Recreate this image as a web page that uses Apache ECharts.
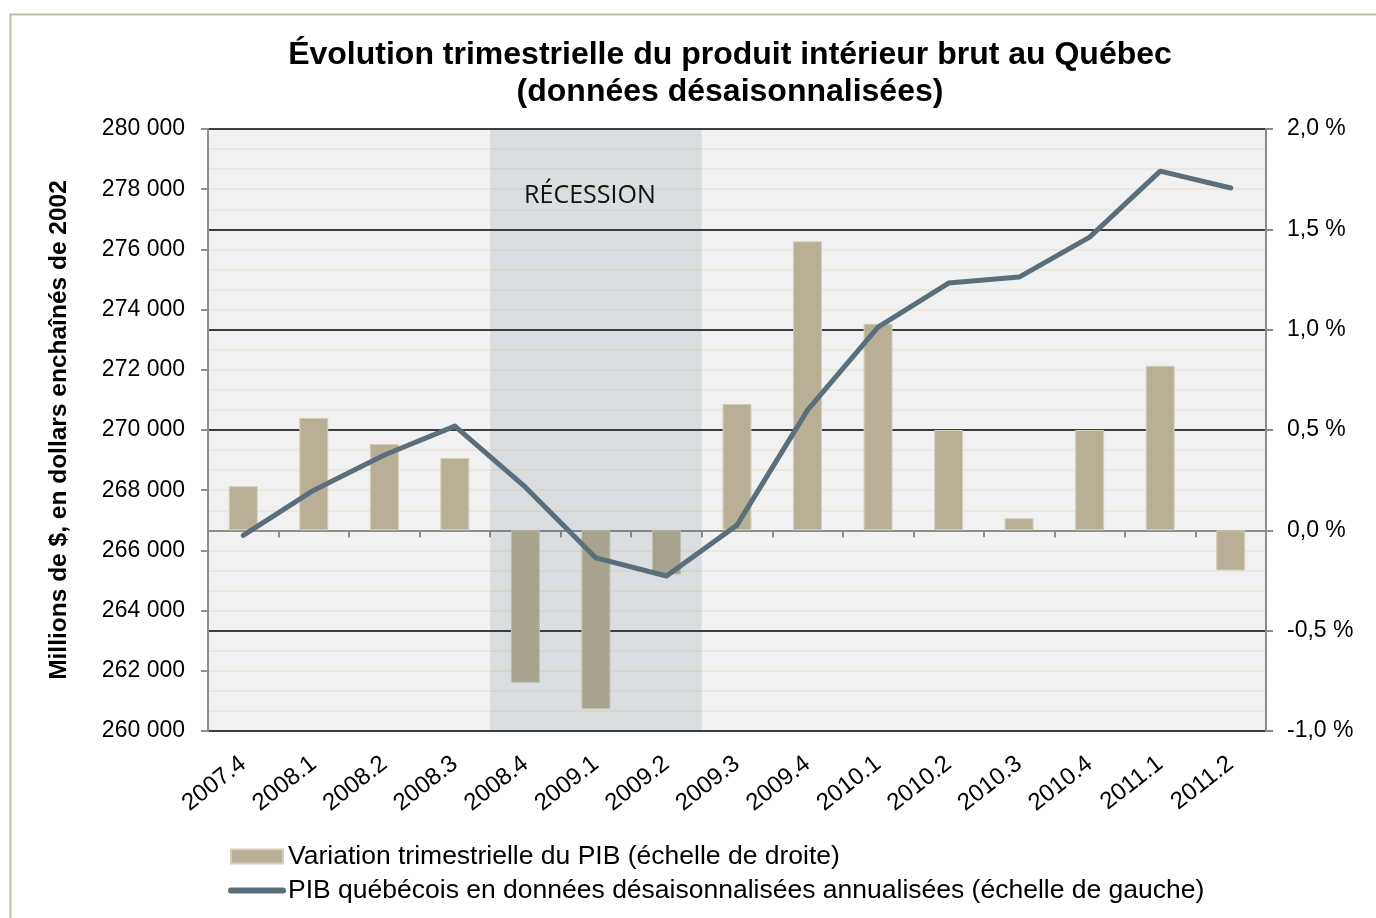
<!DOCTYPE html>
<html>
<head>
<meta charset="utf-8">
<script src="https://cdn.jsdelivr.net/npm/echarts@6/dist/echarts.min.js"></script>
<style>
html, body { margin: 0; padding: 0; background: #fff; }
#main { width: 1376px; height: 918px; }
</style>
</head>
<body>
<div id="main"></div>
<script>
var myChart = echarts.init(document.getElementById('main'));

var trimestres = ['2007.4','2008.1','2008.2','2008.3','2008.4','2009.1','2009.2','2009.3','2009.4','2010.1','2010.2','2010.3','2010.4','2011.1','2011.2'];
// variation trimestrielle du PIB (%), échelle de droite
var variation = [0.22, 0.56, 0.43, 0.36, -0.76, -0.89, -0.22, 0.63, 1.44, 1.03, 0.50, 0.06, 0.50, 0.82, -0.20];
// PIB désaisonnalisé annualisé (M$ enchaînés de 2002), échelle de gauche
var pib = [266500, 268000, 269170, 270130, 268100, 265750, 265150, 266840, 270660, 273420, 274880, 275080, 276410, 278600, 278040];
var recession = ['2008.4', '2009.2'];

var nomBarres = 'Variation trimestrielle du PIB (échelle de droite)';
var nomLigne = 'PIB québécois en données désaisonnalisées annualisées (échelle de gauche)';

var debutRec = trimestres.indexOf(recession[0]);
var finRec = trimestres.indexOf(recession[1]) + 1;

var option = {
    backgroundColor: '#fff',
    textStyle: { fontFamily: 'Liberation Sans, Arial, sans-serif' },
    title: {
        text: 'Évolution trimestrielle du produit intérieur brut au Québec\n(données désaisonnalisées)',
        left: 725,
        top: 32,
        textAlign: 'center',
        textStyle: {
            fontSize: 32,
            fontWeight: 'bold',
            color: '#000',
            lineHeight: 37
        }
    },
    graphic: [{
        type: 'rect',
        left: 8, top: 12,
        shape: { width: 1400, height: 940 },
        style: { fill: 'none', stroke: '#C4BCA4', lineWidth: 2 },
        silent: true
    }],
    legend: {
        orient: 'vertical',
        left: 228,
        top: 843,
        padding: 0,
        itemWidth: 52,
        itemHeight: 14,
        itemGap: 7,
        data: [
            { name: nomBarres, icon: 'rect' },
            {
                name: nomLigne,
                itemStyle: { opacity: 0 },
                lineStyle: { width: 6, cap: 'round', color: '#5A6E7B' }
            }
        ],
        textStyle: { fontSize: 26.5, lineHeight: 26, color: '#000' }
    },
    grid: {
        left: 208,
        right: 110,
        top: 129,
        bottom: 187,
        show: true,
        backgroundColor: '#F1F1F1',
        borderWidth: 0
    },
    xAxis: [{
        type: 'category',
        data: trimestres,
        boundaryGap: true,
        axisLine: { lineStyle: { color: '#8C8C8C', width: 2 } },
        axisTick: { show: true, length: 7, lineStyle: { color: '#8C8C8C', width: 2 } },
        axisLabel: { rotate: 38, fontSize: 24, color: '#000', margin: 30 }
    }, {
        type: 'value',
        min: 0,
        max: trimestres.length,
        show: false
    }],
    yAxis: [{
        type: 'value',
        min: 260000,
        max: 280000,
        interval: 2000,
        position: 'left',
        name: 'Millions de $, en dollars enchaînés de 2002',
        nameLocation: 'middle',
        nameGap: 136,
        nameTextStyle: { fontSize: 24.5, fontWeight: 'bold', color: '#000' },
        axisLine: { show: true, lineStyle: { color: '#8C8C8C', width: 2 } },
        axisTick: { show: true, length: 7, lineStyle: { color: '#8C8C8C', width: 2 } },
        splitLine: { show: false },
        axisLabel: {
            fontSize: 23, color: '#000', margin: 23,
            formatter: function (v) { return String(v).replace(/\B(?=(\d{3})+(?!\d))/g, ' '); }
        }
    }, {
        type: 'value',
        min: -1,
        max: 2,
        interval: 0.5,
        position: 'right',
        axisLine: { show: true, lineStyle: { color: '#8C8C8C', width: 2 } },
        axisTick: { show: true, length: 7, lineStyle: { color: '#8C8C8C', width: 2 } },
        splitLine: { show: true, lineStyle: { color: '#000', width: 1.5 } },
        minorTick: { show: false, splitNumber: 5 },
        minorSplitLine: { show: true, lineStyle: { color: '#EAE4D2', width: 1.5 } },
        axisLabel: {
            fontSize: 23, color: '#000', margin: 21,
            formatter: function (v) { return v.toFixed(1).replace('.', ',') + ' %'; }
        }
    }],
    series: [
        {
            name: nomBarres,
            type: 'bar',
            xAxisIndex: 0,
            yAxisIndex: 1,
            data: variation,
            barWidth: '41%',
            z: 2,
            itemStyle: { color: '#B8AF96', borderColor: '#D3CDBB', borderWidth: 1 }
        },
        {
            name: 'recession',
            type: 'line',
            xAxisIndex: 1,
            yAxisIndex: 0,
            data: [],
            z: 4,
            silent: true,
            markArea: {
                z: 4,
                silent: true,
                itemStyle: { color: 'rgba(44,72,90,0.11)' },
                label: {
                    show: true,
                    position: 'insideTop',
                    distance: 54,
                    offset: [-6, 0],
                    fontFamily: 'Open Sans',
                    fontSize: 25,
                    color: '#111'
                },
                data: [[
                    { name: 'RÉCESSION', xAxis: debutRec },
                    { xAxis: finRec }
                ]]
            }
        },
        {
            name: nomLigne,
            type: 'line',
            xAxisIndex: 0,
            yAxisIndex: 0,
            data: pib,
            z: 6,
            symbol: 'none',
            lineStyle: { color: '#5A6E7B', width: 5, cap: 'round', join: 'round' },
            itemStyle: { color: '#5A6E7B' }
        }
    ]
};

myChart.setOption(option);
</script>
</body>
</html>
